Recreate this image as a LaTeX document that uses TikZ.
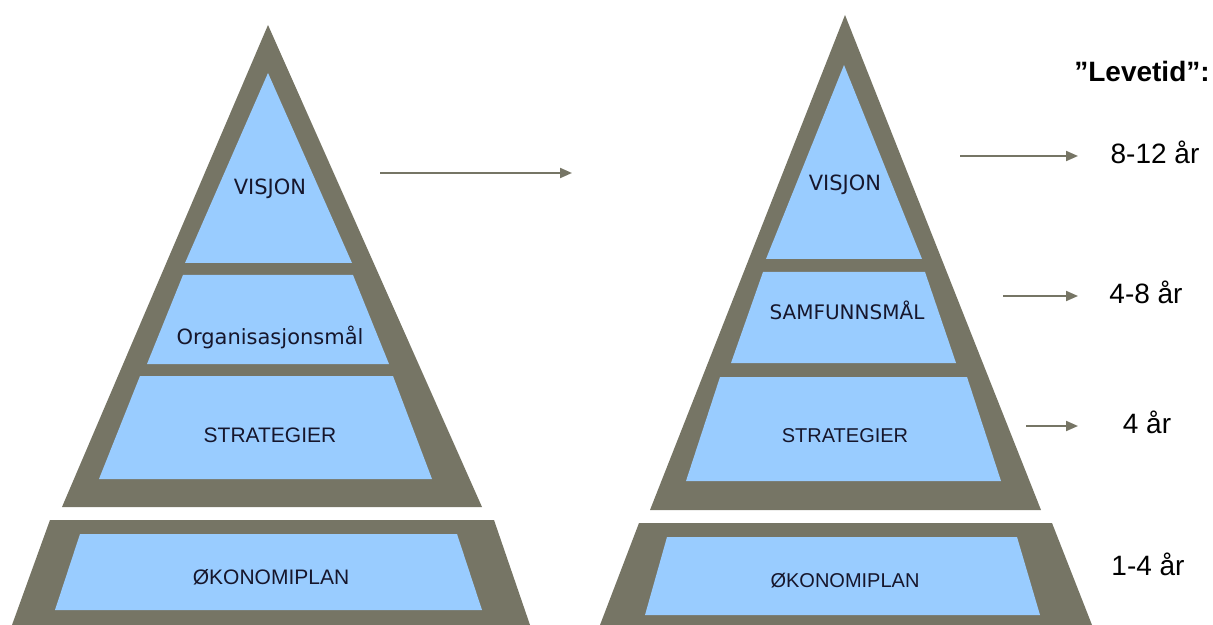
\documentclass[tikz,border=0pt]{standalone}
\usepackage{fontspec}
\setmainfont{Liberation Sans}
\newfontfamily\verdfont{DejaVu Sans}
\usetikzlibrary{arrows.meta}

\definecolor{framegray}{RGB}{118,117,101}
\definecolor{bandblue}{RGB}{153,204,255}
\definecolor{labelink}{RGB}{22,22,44}

\tikzset{
    frame/.style={fill=framegray},
    band/.style={fill=bandblue},
    verdlabel/.style={text=labelink, font=\verdfont\fontsize{10.5}{12}\selectfont,
        text height=0.72em, text depth=0pt, inner sep=0pt},
    ariallabel/.style={text=labelink, font=\fontsize{10.5}{12}\selectfont,
        text height=0.72em, text depth=0pt, inner sep=0pt},
    yearlabel/.style={font=\fontsize{14}{16}\selectfont,
        text height=0.72em, text depth=0pt, inner sep=0pt},
    lifearrow/.style={draw=framegray, line width=1pt,
        -{Triangle[length=6pt, width=5pt]}}
}

\begin{document}
\begin{tikzpicture}[x=0.5pt, y=-0.5pt]
    \useasboundingbox (0,0) rectangle (1213,625);

    % Left pyramid: gray frame and blue bands
    \fill[frame] (268,25) -- (482,507) -- (62,507) -- cycle;
    \fill[band] (268,73) -- (352,263) -- (185,263) -- cycle;
    \fill[band] (183,275) -- (353,275) -- (389,364) -- (147,364) -- cycle;
    \fill[band] (140,376) -- (393,376) -- (432,479) -- (99,479) -- cycle;

    % Left base block
    \fill[frame] (50,520) -- (494,520) -- (530,625) -- (12,625) -- cycle;
    \fill[band] (80,534) -- (457,534) -- (482,610) -- (55,610) -- cycle;

    % Labels of the left pyramid
    \node[verdlabel] (visjonL) at (270,187) {VISJON};
    \node[verdlabel] (orgmaal) at (270,337) {Organisasjonsmål};
    \node[ariallabel] (strategL) at (270,435) {STRATEGIER};
    \node[ariallabel] (okonL) at (271,577) {ØKONOMIPLAN};

    % Arrow from the left pyramid to the right one
    \coordinate (shiftS) at (380,173);
    \coordinate (shiftE) at (572,173);
    \draw[lifearrow] (shiftS) -- (shiftE);

    % Right pyramid: gray frame and blue bands
    \fill[frame] (845,15) -- (1041,510) -- (650,510) -- cycle;
    \fill[band] (844,65) -- (922,259) -- (766,259) -- cycle;
    \fill[band] (763,272) -- (925,272) -- (956,363) -- (731,363) -- cycle;
    \fill[band] (720,377) -- (967,377) -- (1001,481) -- (686,481) -- cycle;

    % Right base block
    \fill[frame] (639,523) -- (1052,523) -- (1092,625) -- (600,625) -- cycle;
    \fill[band] (667,537) -- (1017,537) -- (1040,615) -- (645,615) -- cycle;

    % Labels of the right pyramid
    \node[verdlabel] (visjonR) at (845,183) {VISJON};
    \node[verdlabel, font=\verdfont\fontsize{10}{12}\selectfont] (samfunn) at (847,312) {SAMFUNNSMÅL};
    \node[ariallabel, font=\fontsize{10}{12}\selectfont] (strategR) at (845,435) {STRATEGIER};
    \node[ariallabel, font=\fontsize{10}{12}\selectfont] (okonR) at (845,580) {ØKONOMIPLAN};

    % Lifetime column
    \node[yearlabel, font=\bfseries\fontsize{14}{16}\selectfont] (levetid) at (1142,74) {”Levetid”:};
    \foreach \n/\xs/\y/\xt/\txt in {
        a/960/156/1155/8-12 år, b/1003/296/1146/4-8 år, c/1026/426/1147/4 år
    }{
        \node[yearlabel] (year\n) at (\xt,\y) {\txt};
        \coordinate (arrS\n) at (\xs,\y);
        \coordinate (arrE\n) at (1078,\y);
        \draw[lifearrow] (arrS\n) -- (arrE\n);
    }
    \node[yearlabel] (yeard) at (1148,568) {1-4 år};
\end{tikzpicture}
\end{document}
